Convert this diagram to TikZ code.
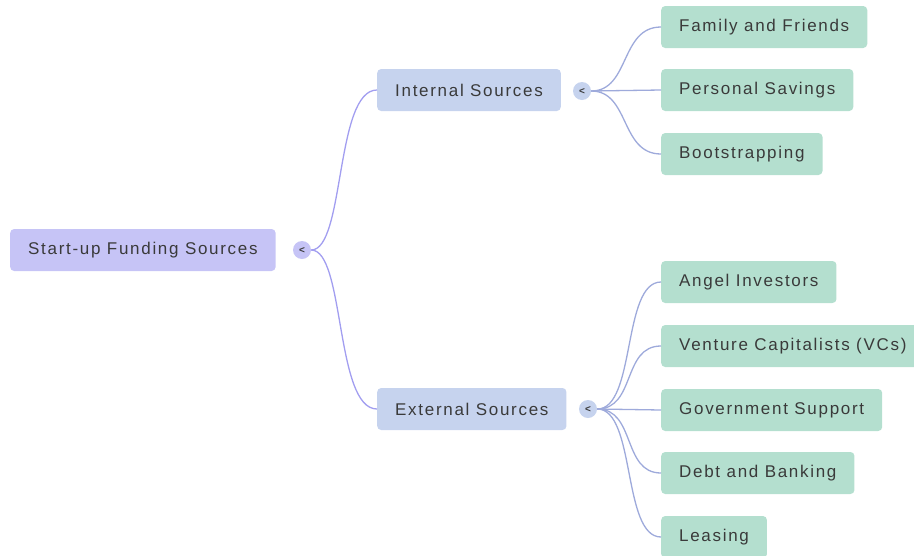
\documentclass[tikz,border=0pt]{standalone}
\usepackage{fontspec}
\setmainfont[LetterSpace=10]{Liberation Sans}
\definecolor{rootfill}{HTML}{C6C4F6}
\definecolor{midfill}{HTML}{C6D3EE}
\definecolor{leaffill}{HTML}{B4DFCF}
\definecolor{rootline}{HTML}{A29EF0}
\definecolor{midline}{HTML}{9EAADB}
\definecolor{txt}{HTML}{3A3A3A}
\begin{document}
\begin{tikzpicture}[x=1pt,y=-1pt,
  box/.style={anchor=west,rounded corners=4pt,minimum height=42pt,inner xsep=18pt,
    font=\fontsize{17}{19}\selectfont,text=txt},
  rootbox/.style={box,fill=rootfill},
  midbox/.style={box,fill=midfill},
  leafbox/.style={box,fill=leaffill},
  toggle/.style={circle,inner sep=0pt,minimum size=18pt,font=\fontsize{10}{10}\selectfont\bfseries,text=txt},
  rootlink/.style={draw=rootline,line width=1.3pt},
  midlink/.style={draw=midline,line width=1.3pt}]
\useasboundingbox (0,0) rectangle (914,555);
\node[rootbox] (root) at (10,250) {Start-up Funding Sources};
\node[toggle,fill=rootfill] (rt) at (302,250) {<};
\node[midbox] (int) at (377,90) {Internal Sources};
\node[midbox] (ext) at (377,409) {External Sources};
\node[toggle,fill=midfill] (it) at (582,91) {<};
\node[toggle,fill=midfill] (et) at (588,409) {<};
\node[leafbox] (ff) at (661,27) {Family and Friends};
\node[leafbox] (ps) at (661,90) {Personal Savings};
\node[leafbox] (bs) at (661,154) {Bootstrapping};
\node[leafbox] (ai) at (661,282) {Angel Investors};
\node[leafbox] (vc) at (661,346) {Venture Capitalists (VCs)};
\node[leafbox] (gs) at (661,410) {Government Support};
\node[leafbox] (db) at (661,473) {Debt and Banking};
\node[leafbox] (le) at (661,537) {Leasing};
\path[rootlink] (rt.east) .. controls (345,250) and (335,90) .. (int.west);
\path[rootlink] (rt.east) .. controls (345,250) and (335,409) .. (ext.west);
\path[midlink] (it.east) -- (ps.west);
\path[midlink] (it.east) .. controls (630,91) and (620,27) .. (ff.west);
\path[midlink] (it.east) .. controls (630,91) and (620,154) .. (bs.west);
\path[midlink] (et.east) .. controls (636,409) and (622,282) .. (ai.west);
\path[midlink] (et.east) .. controls (636,409) and (622,346) .. (vc.west);
\path[midlink] (et.east) -- (gs.west);
\path[midlink] (et.east) .. controls (636,409) and (622,473) .. (db.west);
\path[midlink] (et.east) .. controls (636,409) and (622,537) .. (le.west);
\end{tikzpicture}
\end{document}
